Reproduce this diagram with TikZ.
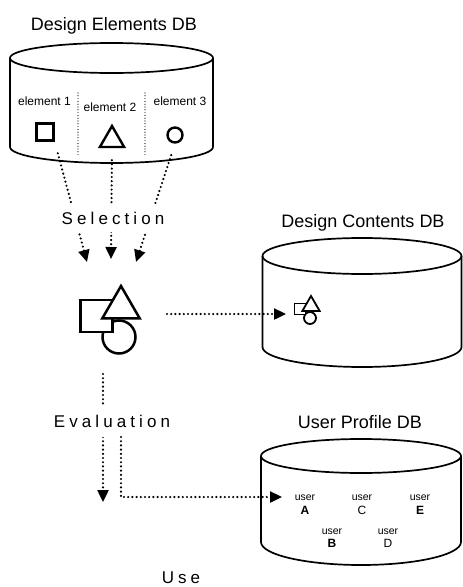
\documentclass[tikz,border=0pt]{standalone}
\usepackage{fontspec}
\setmainfont{Liberation Sans}
\newfontfamily\spacedfont[LetterSpace=24]{Liberation Sans}
\usetikzlibrary{arrows.meta,shapes.geometric}

% cylinder: centre x, top-ellipse y, x radius, top y radius, bottom y, bottom y radius
\newcommand\dbcylinder[6]{%
  \draw[cyl] (#1-#3,#2) -- (#1-#3,#5)
     arc[start angle=180,end angle=0,x radius=#3,y radius=#6] -- (#1+#3,#2);
  \draw[cyl] (#1,#2) ellipse[x radius=#3,y radius=#4];
}

\tikzset{
  cyl/.style={line width=1.7pt,line join=round},
  dots/.style={line width=2.4pt,dash pattern=on 0pt off 4.2pt,line cap=round},
  flow/.style={dots,-{Triangle[length=12pt,width=11pt]}},
  divider/.style={line width=1.2pt,dash pattern=on 0pt off 2.8pt,line cap=round},
  sq/.style={draw,rectangle,fill=white,inner sep=0pt},
  tri/.style={draw,regular polygon,regular polygon sides=3,fill=white,inner sep=0pt},
  circ/.style={draw,circle,fill=white,inner sep=0pt},
  dbtitle/.style={font=\fontsize{18}{20}\selectfont,anchor=base,inner sep=0pt},
  stagelabel/.style={font=\spacedfont\fontsize{17}{20}\selectfont,anchor=base,
    fill=white,inner xsep=0pt},
  elemlabel/.style={font=\fontsize{12}{14}\selectfont,anchor=base,inner sep=0pt},
  utag/.style={font=\fontsize{10.5}{12}\selectfont,anchor=base,inner sep=0pt},
  uletter/.style={font=\fontsize{12}{14}\selectfont,anchor=base,inner sep=0pt},
}

\begin{document}
\begin{tikzpicture}[x=1pt,y=-1pt]
\useasboundingbox (0,0) rectangle (463,587);

% ---- Design Elements DB ----
\node[dbtitle] (deTitle) at (114,30) {Design Elements DB};
\dbcylinder{111.5}{58}{101.5}{15}{147}{16}
\draw[divider] (78,93) -- (78,157);
\draw[divider] (145,93) -- (145,157);
\node[elemlabel] (el1) at (44.5,105) {element 1};
\node[elemlabel] (el2) at (110,111) {element 2};
\node[elemlabel] (el3) at (180,105) {element 3};
\node[sq,line width=2.4pt,minimum size=17pt] (sq1) at (45,132) {};
\node[tri,line width=2.4pt,minimum size=28pt] (tri1) at (112,140) {};
\node[circ,line width=2.4pt,minimum size=15pt] (c1) at (175,135) {};

% ---- combined design ----
\node[circ,line width=2.5pt,minimum size=33pt] (c2) at (119,337) {};
\node[sq,line width=2.5pt,minimum size=32pt] (sq2) at (96.5,316) {};
\node[tri,line width=2.5pt,minimum size=43pt] (tri2) at (121,307.5) {};

% ---- Design Contents DB ----
\node[dbtitle] (dcTitle) at (363,227) {Design Contents DB};
\dbcylinder{362}{256}{99.5}{18}{347}{20}
\node[circ,line width=1.8pt,minimum size=12pt] (c3) at (310,318) {};
\node[sq,line width=1.8pt,minimum size=11pt] (sq3) at (300,309) {};
\node[tri,line width=1.8pt,minimum size=20pt] (tri3) at (311,306) {};

% ---- User Profile DB ----
\node[dbtitle] (upTitle) at (360,428) {User Profile DB};
\dbcylinder{361}{456}{100}{17}{542}{23}
\node[utag] (uA) at (305,500) {user};
\node[uletter,font=\fontsize{12}{14}\selectfont\bfseries] (lA) at (305,514) {A};
\node[utag] (uC) at (362,500) {user};
\node[uletter] (lC) at (362,514) {C};
\node[utag] (uE) at (420,500) {user};
\node[uletter,font=\fontsize{12}{14}\selectfont\bfseries] (lE) at (420,514) {E};
\node[utag] (uB) at (332,534) {user};
\node[uletter,font=\fontsize{12}{14}\selectfont\bfseries] (lB) at (332,547) {B};
\node[utag] (uD) at (388,534) {user};
\node[uletter] (lD) at (388,547) {D};

% ---- connector ends ----
\coordinate (selA) at (87,262);
\coordinate (selB) at (111,259);
\coordinate (selC) at (136,262);
\coordinate (mixOut) at (167,314);
\coordinate (dcIn) at (286,314);
\coordinate (evTop) at (103,374);
\coordinate (evTip) at (103,502);
\coordinate (useTop) at (121,437);
\coordinate (useCorner) at (121,497);
\coordinate (upIn) at (282,497);

% ---- selection ----
\draw[flow,shorten <=12pt] (sq1.south east) -- (selA);
\draw[flow,shorten <=12pt] (tri1.south) -- (selB);
\draw[flow,shorten <=12pt] (c1.south) -- (selC);
\node[stagelabel,inner ysep=8pt] (selLabel) at (113,224) {Selection};

% ---- store the design ----
\draw[flow] (mixOut) -- (dcIn);

% ---- evaluation ----
\draw[flow] (evTop) -- (evTip);
\node[stagelabel,inner ysep=10pt] (evLabel) at (112,427) {Evaluation};
\draw[flow] (useTop) -- (useCorner) -- (upIn);

% ---- use ----
\node[stagelabel,fill=none,inner sep=0pt] (useLabel) at (181,583) {Use};
\end{tikzpicture}
\end{document}
